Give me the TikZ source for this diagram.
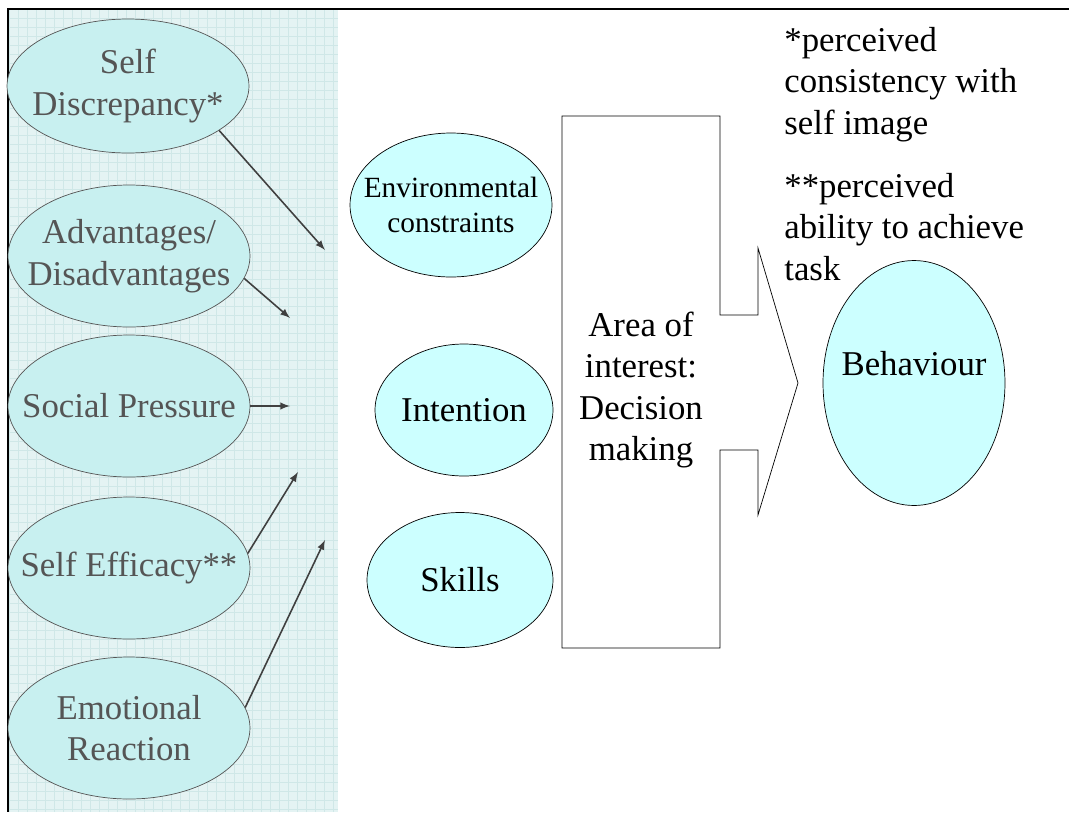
\documentclass[tikz,border=0pt]{standalone}
\usepackage{fontspec}
\setmainfont{Liberation Serif}
\usetikzlibrary{shapes.geometric,arrows,positioning}
\definecolor{paleblue}{HTML}{CCFFFF}
\definecolor{panelbg}{HTML}{E4F3F3}
\definecolor{gridc}{HTML}{CFE7E7}
\definecolor{fadefill}{HTML}{C8F0F0}
\definecolor{fadetext}{HTML}{555555}
\definecolor{fadeline}{HTML}{404040}

\begin{document}
\begin{tikzpicture} [
    x = 0.02cm, y = -0.02cm,
    bigtext/.style = { font = \fontsize{19.8}{23.6}\selectfont, align = center, inner sep = 0 },
    smalltext/.style = { font = \fontsize{16.7}{19.8}\selectfont, align = center, inner sep = 0 },
    factor/.style = { ellipse, draw = fadetext, fill = fadefill, inner sep = 0, minimum width = 4.84cm, minimum height = 2.84cm },
    cause/.style = { ellipse, draw, thin, fill = paleblue, inner sep = 0 },
    link/.style = { -latex, fadeline, line width = 0.9pt }
    ]

    \useasboundingbox (0,0) rectangle (1069,812);
    \fill[panelbg] (8,9) rectangle (338,812);
    \draw[gridc, step = 0.18cm] (8,9) grid (338,812);
    \draw[line width = 1pt] (1069,9) -- (8,9) -- (8,812);

    \node[factor, minimum height = 2.68cm, label = {[bigtext, text = fadetext]center:Self\\Discrepancy*}] (SD) at (128,86) {};
    \node[factor, label = {[bigtext, text = fadetext]center:Advantages/\\Disadvantages}] (AD) at (129,256) {};
    \node[factor, label = {[bigtext, text = fadetext]center:Social Pressure}] (SP) at (129,406) {};
    \node[factor, label = {[bigtext, text = fadetext]center:Self Efficacy**}] (SE) at (129,568) {};
    \node[factor, label = {[bigtext, text = fadetext]center:Emotional\\Reaction}] (ER) at (129,728) {};

    \coordinate (t1) at (325,250);
    \coordinate (t2) at (290,318);
    \coordinate (t3) at (290,406);
    \coordinate (t4) at (298,472);
    \coordinate (t5) at (325,540);

    \draw[link] (SD.-26) -- (t1);
    \draw[link] (AD.-11) -- (t2);
    \draw[link] (SP.east) -- (t3);
    \draw[link] (SE.7) -- (t4);
    \draw[link] (ER.10) -- (t5);

    \node[cause, minimum width = 4.04cm, minimum height = 2.88cm, label = {[smalltext]center:Environmental\\constraints}] (EC) at (451,205) {};
    \node[cause, minimum width = 3.56cm, minimum height = 2.64cm, label = {[bigtext]center:Intention}] (IN) at (464,410) {};
    \node[cause, minimum width = 3.72cm, minimum height = 2.7cm, label = {[bigtext]center:Skills}] (SK) at (460,580) {};

    \draw[thin] (562,116) -- (720,116) -- (720,315) -- (758,315) -- (758,248) -- (798,383)
        -- (758,515) -- (758,450) -- (720,450) -- (720,648) -- (562,648) -- cycle;
    \node[bigtext] (DM) at (641,390) {Area of\\interest:\\Decision\\making};

    \node[cause, minimum width = 3.64cm, minimum height = 4.9cm, label = {[bigtext, yshift = 11pt]center:Behaviour}] (B) at (914,383) {};

    \node[bigtext, align = left, anchor = base west] (N1) at (784,134) {*perceived\\consistency with\\self image};
    \node[bigtext, align = left, anchor = base west] (N2) at (784,280) {**perceived\\ability to achieve\\task};
\end{tikzpicture}
\end{document}
